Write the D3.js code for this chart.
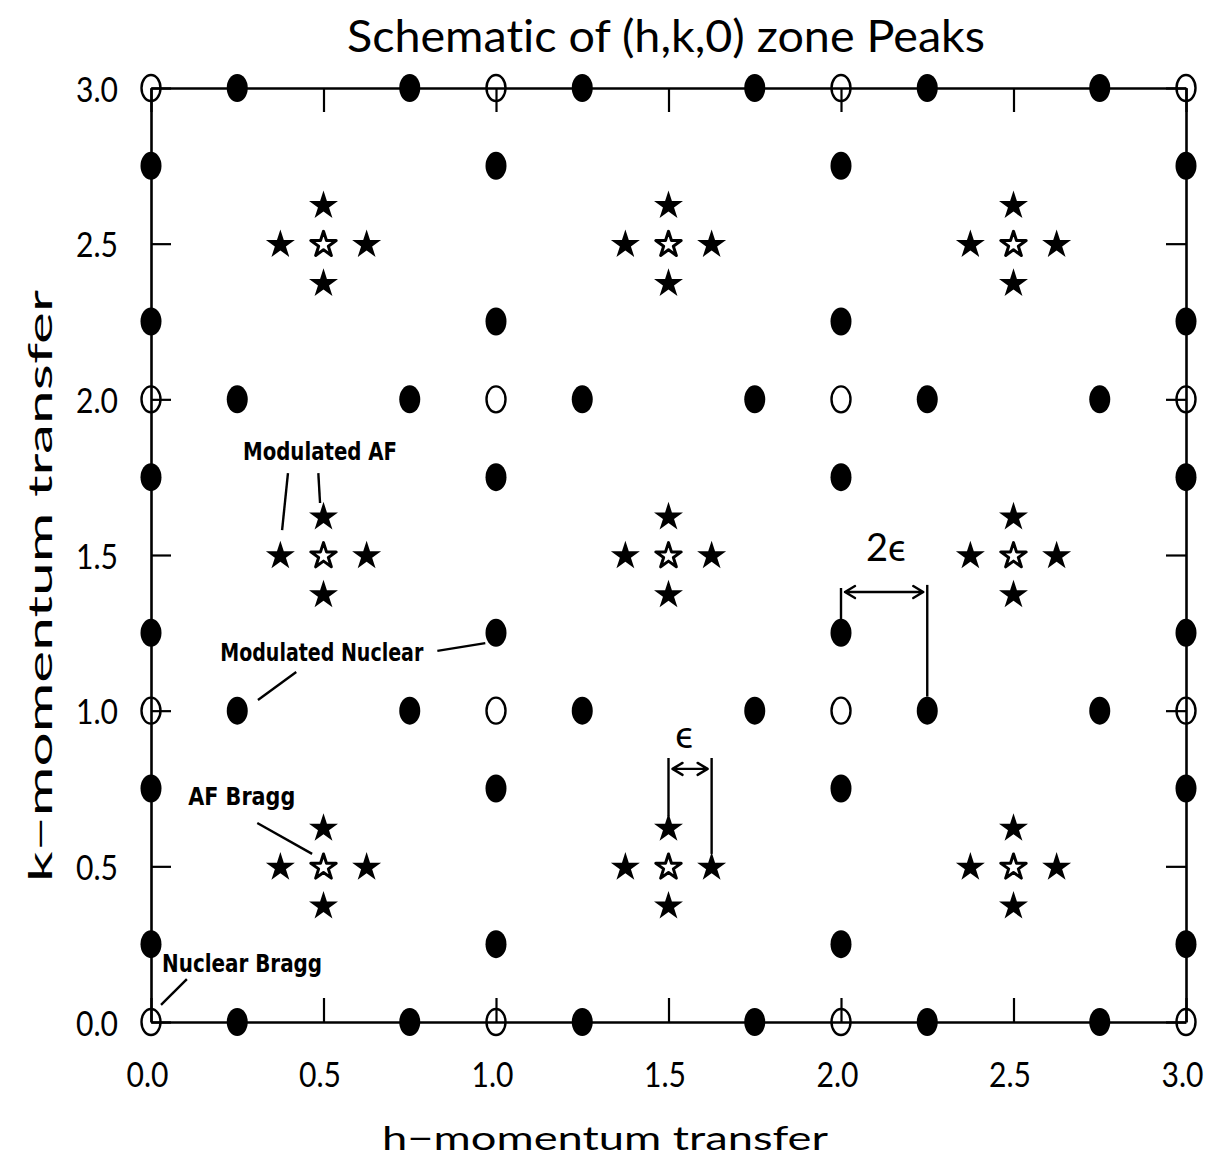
<!DOCTYPE html>
<html>
<head>
<meta charset="utf-8">
<script src="https://cdn.jsdelivr.net/npm/d3@7"></script>
<style>
  html, body { margin: 0; padding: 0; background: #fff; }
  svg { display: block; }
  .thin { font-family: Lato, "DejaVu Sans", sans-serif; font-weight: 400; fill: #000; font-variant-ligatures: none; }
  .note { font-family: "DejaVu Sans Condensed", "DejaVu Sans", sans-serif; font-weight: bold; fill: #000; }
</style>
</head>
<body>
<svg id="chart" width="1210" height="1165"></svg>
<script>
// Tick values along both reciprocal-lattice axes
const hTicks = [0.0, 0.5, 1.0, 1.5, 2.0, 2.5, 3.0];
const kTicks = [0.0, 0.5, 1.0, 1.5, 2.0, 2.5, 3.0];

// Nuclear Bragg peaks (open ellipses) at integer (h,k)
const nuclearBragg = [
  [0, 0], [1, 0], [2, 0], [3, 0],
  [0, 1], [1, 1], [2, 1], [3, 1],
  [0, 2], [1, 2], [2, 2], [3, 2],
  [0, 3], [1, 3], [2, 3], [3, 3]
];

// Modulated nuclear satellites (filled ellipses)
const modulatedNuclear = [
  // along the k = 0, 1, 2, 3 rows
  [0.25, 0], [0.75, 0], [1.25, 0], [1.75, 0], [2.25, 0], [2.75, 0],
  [0.25, 1], [0.75, 1], [1.25, 1], [1.75, 1], [2.25, 1], [2.75, 1],
  [0.25, 2], [0.75, 2], [1.25, 2], [1.75, 2], [2.25, 2], [2.75, 2],
  [0.25, 3], [0.75, 3], [1.25, 3], [1.75, 3], [2.25, 3], [2.75, 3],
  // along the h = 0, 1, 2, 3 columns
  [0, 0.25], [0, 0.75], [0, 1.25], [0, 1.75], [0, 2.25], [0, 2.75],
  [1, 0.25], [1, 0.75], [1, 1.25], [1, 1.75], [1, 2.25], [1, 2.75],
  [2, 0.25], [2, 0.75], [2, 1.25], [2, 1.75], [2, 2.25], [2, 2.75],
  [3, 0.25], [3, 0.75], [3, 1.25], [3, 1.75], [3, 2.25], [3, 2.75]
];

// Antiferromagnetic Bragg peaks (open stars)
const afBragg = [
  [0.5, 0.5], [1.5, 0.5], [2.5, 0.5],
  [0.5, 1.5], [1.5, 1.5], [2.5, 1.5],
  [0.5, 2.5], [1.5, 2.5], [2.5, 2.5]
];

// Modulated AF satellites (filled stars)
const modulatedAF = [
  [0.375, 0.5], [0.625, 0.5], [0.5, 0.375], [0.5, 0.625],
  [1.375, 0.5], [1.625, 0.5], [1.5, 0.375], [1.5, 0.625],
  [2.375, 0.5], [2.625, 0.5], [2.5, 0.375], [2.5, 0.625],
  [0.375, 1.5], [0.625, 1.5], [0.5, 1.375], [0.5, 1.625],
  [1.375, 1.5], [1.625, 1.5], [1.5, 1.375], [1.5, 1.625],
  [2.375, 1.5], [2.625, 1.5], [2.5, 1.375], [2.5, 1.625],
  [0.375, 2.5], [0.625, 2.5], [0.5, 2.375], [0.5, 2.625],
  [1.375, 2.5], [1.625, 2.5], [1.5, 2.375], [1.5, 2.625],
  [2.375, 2.5], [2.625, 2.5], [2.5, 2.375], [2.5, 2.625]
];

const svg = d3.select("#chart");
svg.append("rect").attr("width", 1210).attr("height", 1165).attr("fill", "#fff");

const x = d3.scaleLinear().domain([0, 3]).range([151, 1186]);
const y = d3.scaleLinear().domain([0, 3]).range([1022, 88]);

// ---- frame with inward ticks on all four sides ----
function styleAxis(g) {
  g.select(".domain").attr("stroke", "#000").attr("stroke-width", 2.6);
  g.selectAll(".tick line").attr("stroke", "#000").attr("stroke-width", 2.2);
}

const bottom = svg.append("g").attr("transform", `translate(0,${y(0)})`)
  .call(d3.axisBottom(x).tickValues(hTicks).tickSizeInner(-24).tickSizeOuter(0)
        .tickPadding(0).tickFormat(d3.format(".1f")));
styleAxis(bottom);
bottom.selectAll(".tick text")
  .attr("class", "thin").attr("font-size", 35).attr("dy", null)
  .attr("y", 65).attr("x", -4)
  .attr("textLength", 42).attr("lengthAdjust", "spacingAndGlyphs");

const topAxis = svg.append("g").attr("transform", `translate(0,${y(3)})`)
  .call(d3.axisTop(x).tickValues(hTicks).tickSizeInner(-24).tickSizeOuter(0).tickFormat(""));
styleAxis(topAxis);

const left = svg.append("g").attr("transform", `translate(${x(0)},0)`)
  .call(d3.axisLeft(y).tickValues(kTicks).tickSizeInner(-20).tickSizeOuter(0)
        .tickPadding(0).tickFormat(d3.format(".1f")));
styleAxis(left);
left.selectAll(".tick text")
  .attr("class", "thin").attr("font-size", 35).attr("dy", null)
  .attr("x", -33).attr("y", 13)
  .attr("textLength", 42).attr("lengthAdjust", "spacingAndGlyphs");

const rightAxis = svg.append("g").attr("transform", `translate(${x(3)},0)`)
  .call(d3.axisRight(y).tickValues(kTicks).tickSizeInner(-20).tickSizeOuter(0).tickFormat(""));
styleAxis(rightAxis);

// ---- titles ----
svg.append("text").attr("class", "thin")
  .attr("x", 666).attr("y", 52).attr("text-anchor", "middle")
  .attr("font-size", 44).attr("textLength", 638).attr("lengthAdjust", "spacingAndGlyphs")
  .text("Schematic of (h,k,0) zone Peaks");

svg.append("text").attr("class", "thin")
  .attr("x", 605).attr("y", 1150).attr("text-anchor", "middle")
  .attr("font-size", 33).attr("textLength", 446).attr("lengthAdjust", "spacingAndGlyphs")
  .text("h\u2212momentum transfer");

svg.append("text").attr("class", "thin")
  .attr("transform", "translate(52,586) rotate(-90)").attr("text-anchor", "middle")
  .attr("font-size", 33).attr("textLength", 592).attr("lengthAdjust", "spacingAndGlyphs")
  .text("k\u2212momentum transfer");

// ---- peaks ----
const marks = svg.append("g");

marks.selectAll("ellipse.nuc").data(nuclearBragg).join("ellipse")
  .attr("class", "nuc")
  .attr("cx", d => x(d[0])).attr("cy", d => y(d[1]))
  .attr("rx", 9.5).attr("ry", 13)
  .attr("fill", "none").attr("stroke", "#000").attr("stroke-width", 2.4);

marks.selectAll("ellipse.modnuc").data(modulatedNuclear).join("ellipse")
  .attr("class", "modnuc")
  .attr("cx", d => x(d[0])).attr("cy", d => y(d[1]))
  .attr("rx", 10.5).attr("ry", 14)
  .attr("fill", "#000");

const star = d3.symbol().type(d3.symbolStar).size(260);

marks.selectAll("path.af").data(afBragg).join("path")
  .attr("class", "af")
  .attr("transform", d => `translate(${x(d[0])},${y(d[1]) + 1})`)
  .attr("d", d3.symbol().type(d3.symbolStar).size(200)())
  .attr("fill", "#fff").attr("stroke", "#000").attr("stroke-width", 3).attr("stroke-linejoin", "round");

marks.selectAll("path.modaf").data(modulatedAF).join("path")
  .attr("class", "modaf")
  .attr("transform", d => `translate(${x(d[0])},${y(d[1]) + 1})`)
  .attr("d", star())
  .attr("fill", "#000");

// ---- annotations ----
const notes = svg.append("g");

const labels = [
  { text: "Modulated AF", h: 0.49, k: 1.805, w: 154 },
  { text: "Modulated Nuclear", h: 0.495, k: 1.16, w: 203 },
  { text: "AF Bragg", h: 0.263, k: 0.697, w: 107 },
  { text: "Nuclear Bragg", h: 0.264, k: 0.161, w: 160 }
];
notes.selectAll("text.note").data(labels).join("text")
  .attr("class", "note")
  .attr("x", d => x(d.h)).attr("y", d => y(d.k))
  .attr("text-anchor", "middle").attr("font-size", 24)
  .attr("textLength", d => d.w).attr("lengthAdjust", "spacingAndGlyphs")
  .text(d => d.text);

const leaders = [
  [[0.397, 1.763], [0.380, 1.580]],
  [[0.485, 1.763], [0.490, 1.667]],
  [[0.830, 1.192], [0.969, 1.217]],
  [[0.421, 1.124], [0.310, 1.034]],
  [[0.308, 0.639], [0.467, 0.540]],
  [[0.104, 0.138], [0.029, 0.055]]
];
const seg = d3.line().x(d => x(d[0])).y(d => y(d[1]));
notes.selectAll("path.leader").data(leaders).join("path")
  .attr("class", "leader")
  .attr("d", seg).attr("fill", "none").attr("stroke", "#000").attr("stroke-width", 2.4);

// spacing markers: vertical guides and a double-headed arrow between them
function spacing(h0, h1, kArrow, guides, label, lh, lk, fs) {
  guides.forEach(g => {
    notes.append("path").attr("d", seg([[g[0], g[1]], [g[0], g[2]]]))
      .attr("fill", "none").attr("stroke", "#000").attr("stroke-width", 2.4);
  });
  const ya = y(kArrow), xa = x(h0) + 4, xb = x(h1) - 4;
  notes.append("path")
    .attr("d", `M${xa},${ya}L${xb},${ya}M${xa + 10},${ya - 6}L${xa},${ya}L${xa + 10},${ya + 6}` +
               `M${xb - 10},${ya - 6}L${xb},${ya}L${xb - 10},${ya + 6}`)
    .attr("fill", "none").attr("stroke", "#000").attr("stroke-width", 2.4)
    .attr("stroke-linejoin", "round").attr("stroke-linecap", "round");
  notes.append("text").attr("class", "thin")
    .attr("x", x(lh)).attr("y", y(lk)).attr("text-anchor", "middle")
    .attr("font-family", "'DejaVu Sans', sans-serif")
    .attr("font-size", fs).text(label);
}

spacing(1.5, 1.625, 0.813, [[1.5, 0.848, 0.66], [1.625, 0.848, 0.54]], "\u03F5", 1.545, 0.88, 38);
spacing(2.0, 2.25, 1.381, [[2.0, 1.394, 1.29], [2.25, 1.404, 1.045]], "2\u03F5", 2.13, 1.481, 38);
</script>
</body>
</html>
